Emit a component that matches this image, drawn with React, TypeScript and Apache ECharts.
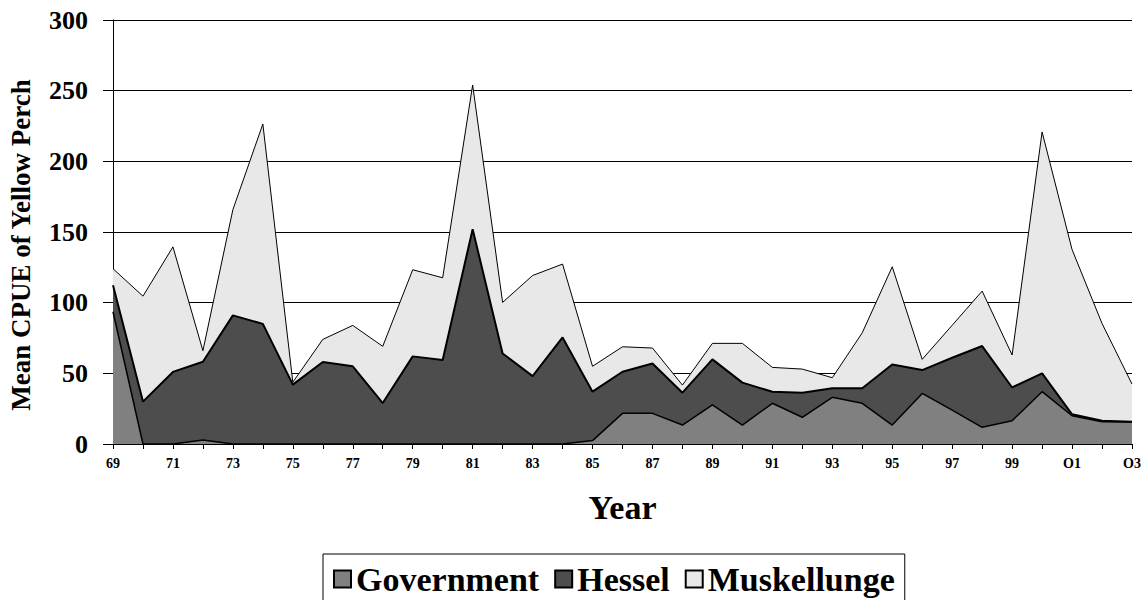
import React, { useEffect, useRef } from "react";
import * as echarts from "echarts";

const years = [
  "69", "70", "71", "72", "73", "74", "75", "76", "77", "78", "79", "80",
  "81", "82", "83", "84", "85", "86", "87", "88", "89", "90", "91", "92",
  "93", "94", "95", "96", "97", "98", "99", "O0", "O1", "O2", "O3",
];

const government = [
  93.6, 0, 0, 2.8, 0, 0, 0, 0, 0, 0, 0, 0,
  0, 0, 0, 0, 2.4, 21.7, 21.7, 13.4, 27.6, 13.4, 28.8, 18.9,
  33, 28.8, 13.4, 35.8, 24, 11.8, 16.5, 37, 20, 15.8, 15.5,
];

const hessel = [
  18.8, 30, 51, 55.4, 91, 85, 42, 58, 55, 29, 62, 59.4,
  152, 64, 48, 75.4, 34.6, 29.4, 35.3, 22.9, 32.3, 30, 8.2, 17.4,
  6.4, 10.6, 42.9, 16.5, 37, 57.5, 23.5, 13, 1, 0.7, 0.3,
];

const muskellunge = [
  11.6, 74.6, 88.5, 7.8, 74.8, 141.4, 1.7, 16, 28.9, 40.1, 61.3, 58.2,
  102, 36.2, 71.2, 51.9, 18, 17.7, 10.9, 5.4, 11.3, 27.8, 17.2, 16.7,
  7.5, 39.3, 69.1, 7.6, 23, 38.9, 23, 170.8, 116.6, 68.8, 26.6,
];

const yTicks = [0, 50, 100, 150, 200, 250, 300];

const FONT = "'Liberation Serif', 'Times New Roman', serif";

export default function App() {
  const ref = useRef<HTMLDivElement>(null);

  useEffect(() => {
    document.body.style.margin = "0";
    if (!ref.current) return;
    const chart = echarts.init(ref.current, undefined, { renderer: "svg" });
    const mk = (name: string, data: number[], color: string, lw: number) => ({
      name,
      type: "line",
      stack: "total",
      data,
      showSymbol: false,
      symbol: "none",
      lineStyle: { color: "#000", width: lw },
      itemStyle: { color, borderColor: "#000", borderWidth: 1 },
      areaStyle: { color, opacity: 1 },
      emphasis: { disabled: true },
    });
    chart.setOption({
      animation: false,
      backgroundColor: "#fff",
      grid: {
        left: 113,
        right: 15,
        top: 20,
        bottom: 156,
        containLabel: false,
        outerBoundsMode: "none",
      },
      legend: {
        left: 323,
        top: 554,
        data: ["Government", "Hessel", "Muskellunge"],
        icon: "rect",
        itemWidth: 17,
        itemHeight: 17,
        itemGap: 15,
        padding: [8, 10, 40, 10],
        borderColor: "#000",
        borderWidth: 1,
        textStyle: {
          fontFamily: FONT,
          fontWeight: "bold",
          fontSize: 34,
          color: "#000",
        },
      },
      xAxis: {
        type: "category",
        data: years,
        boundaryGap: false,
        name: "Year",
        nameLocation: "middle",
        nameGap: 46,
        nameTextStyle: {
          fontFamily: FONT,
          fontWeight: "bold",
          fontSize: 34,
          color: "#000",
        },
        axisLine: { lineStyle: { color: "#000", width: 1 } },
        axisTick: {
          show: true,
          interval: 0,
          length: 5,
          lineStyle: { color: "#000" },
        },
        axisLabel: {
          interval: 1,
          fontFamily: FONT,
          fontWeight: "bold",
          fontSize: 14,
          color: "#000",
          margin: 12,
        },
        splitLine: { show: false },
      },
      yAxis: {
        type: "value",
        min: yTicks[0],
        max: yTicks[yTicks.length - 1],
        interval: 50,
        name: "Mean CPUE of Yellow Perch",
        nameLocation: "middle",
        nameGap: 79,
        nameTextStyle: {
          fontFamily: FONT,
          fontWeight: "bold",
          fontSize: 27,
          color: "#000",
          padding: [0, 26, 0, 0],
        },
        axisLine: { show: true, lineStyle: { color: "#000", width: 1 } },
        axisTick: { show: true, length: 10, lineStyle: { color: "#000" } },
        axisLabel: {
          fontFamily: FONT,
          fontWeight: "bold",
          fontSize: 26,
          color: "#000",
          margin: 25,
        },
        splitLine: { show: true, lineStyle: { color: "#000", width: 1 } },
      },
      series: [
        mk("Government", government, "#808080", 1.5),
        mk("Hessel", hessel, "#4d4d4d", 2),
        mk("Muskellunge", muskellunge, "#e8e8e8", 1),
      ],
    });
    return () => chart.dispose();
  }, []);

  return <div ref={ref} style={{ width: 1147, height: 600 }} />;
}
